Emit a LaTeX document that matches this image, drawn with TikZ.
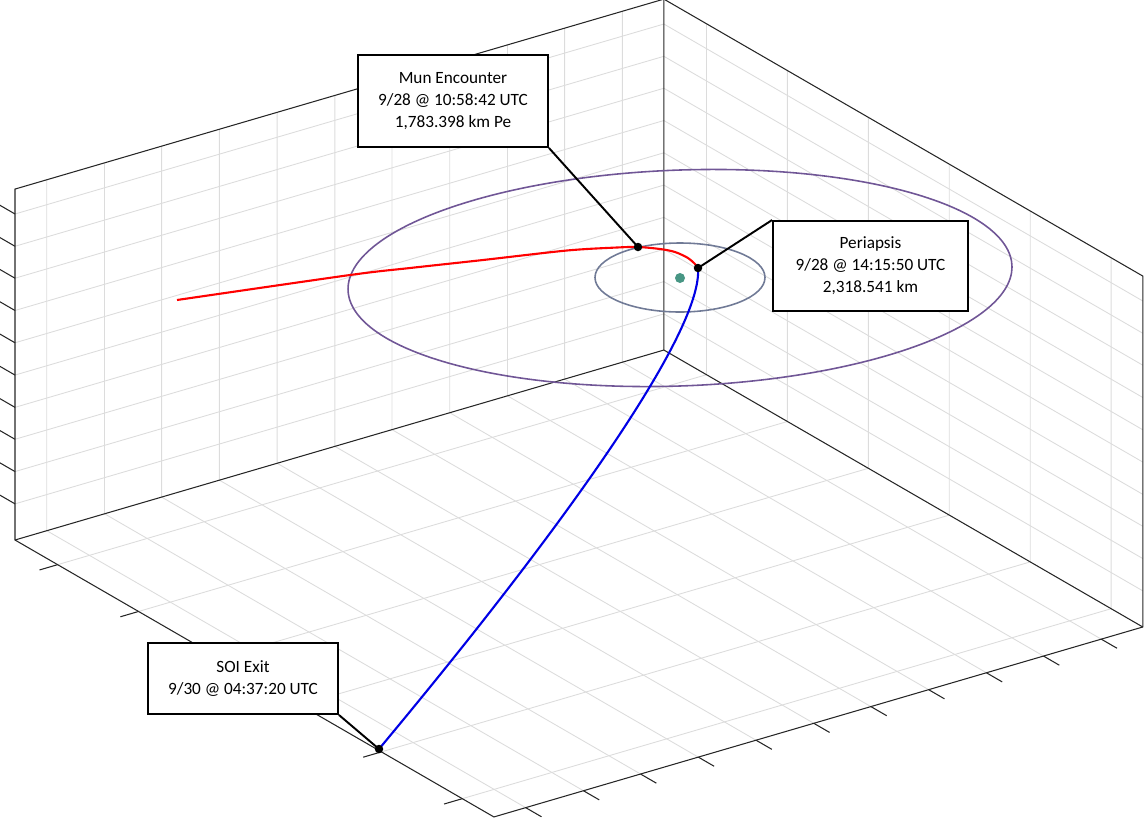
\documentclass[tikz,border=0pt]{standalone}
\usepackage{fontspec}
\setmainfont{Carlito}
\usepackage[]{tikz}
\usetikzlibrary{positioning}
\definecolor{orbitpurple}{RGB}{112,86,150}
\definecolor{soigray}{RGB}{112,122,150}
\definecolor{munteal}{RGB}{72,150,132}
\definecolor{gridgray}{RGB}{220,220,220}
\definecolor{axisdark}{RGB}{38,38,38}
\tikzset{gridline/.style={gridgray,line width=0.5pt}}
\tikzset{axisline/.style={axisdark,line width=0.6pt}}
\tikzset{track/.style={smooth,line width=1.2pt}}
\tikzset{event/.style={circle,fill=black,inner sep=0pt,minimum size=0.17cm}}
\tikzset{leader/.style={black,line width=1.1pt}}
\tikzset{callout/.style={draw=black,line width=1.1pt,fill=white,align=center,inner sep=0pt,font=\fontsize{9.8}{12.5}\selectfont}}

\begin{document}
\begin{tikzpicture}[x=0.02cm,y=-0.02cm] %像素坐标, y向下
    \useasboundingbox (0,0) rectangle (1144,819);
    % box in 3d
    \begin{scope}[shift={(15,540)},x={(12.98cm,3.8cm)},y={(9.58cm,-5.54cm)},z={(0cm,7.02cm)}]
        \foreach \u in {0.049,0.138,0.226,0.315,0.404,0.493,0.581,0.670,0.759,0.847,0.936}
            \draw[gridline] (\u,0,0) -- (\u,0,1) (\u,0,0) -- (\u,1,0);
        \foreach \v in {0.089,0.258,0.427,0.596,0.765,0.934}
            \draw[gridline] (1,\v,0) -- (1,\v,1) (0,\v,0) -- (1,\v,0);
        \foreach \w in {0.103,0.195,0.287,0.378,0.470,0.562,0.654,0.746,0.837,0.929}
            \draw[gridline] (0,0,\w) -- (1,0,\w) -- (1,1,\w);
        \draw[axisline] (0,0,0) -- (0,0,1) -- (1,0,1) -- (1,1,1) -- (1,1,0) -- (0,1,0) -- cycle;
        \draw[axisline] (1,0,0) -- (1,0,1) (0,0,0) -- (1,0,0) -- (1,1,0);
        \foreach \w in {0.103,0.195,0.287,0.378,0.470,0.562,0.654,0.746,0.837,0.929}
            \draw[axisline] (0,0,\w) -- (0,-0.032,\w);
        \foreach \v in {0.089,0.258,0.427,0.596,0.765,0.934}
            \draw[axisline] (0,\v,0) -- (-0.028,\v,0);
        \foreach \u in {0.049,0.138,0.226,0.315,0.404,0.493,0.581,0.670,0.759,0.847,0.936}
            \draw[axisline] (\u,1,0) -- (\u,1.033,0);
    \end{scope}
    % orbits
    \draw[orbitpurple,line width=0.9pt] plot[domain=0:360,samples=120,smooth] ({680+332*cos(\x)},{278-11*cos(\x)+108*sin(\x)});
    \draw[soigray,line width=0.9pt] (680,277.5) ellipse [x radius=85, y radius=34.5];
    \fill[munteal] (680,278) circle [radius=5];
    \coordinate (encpt) at (638,247);
    \coordinate (peript) at (698,268);
    \coordinate (soipt) at (379,749);
    \draw[track,red] plot coordinates {(177,300) (350,275) (410,268) (483,260) (567,250.5) (617,247.5) (638,247) (660,249) (675,252) (688,258) (695,264) (698,268)};
    \draw[blue!90!black,line width=1.2pt] (peript) .. controls (703,330) and (570,520) .. (soipt);
    % events
    \node[event] (enc) at (encpt) {};
    \node[event] (peri) at (peript) {};
    \node[event] (soiexit) at (soipt) {};
    \node[callout,minimum width=3.8cm,minimum height=1.84cm] (munbox) at (453,101) {Mun Encounter\\9/28 @ 10:58:42 UTC\\1,783.398 km Pe};
    \node[callout,minimum width=3.9cm,minimum height=1.8cm] (peribox) at (870.5,266) {Periapsis\\9/28 @ 14:15:50 UTC\\2,318.541 km};
    \node[callout,minimum width=3.8cm,minimum height=1.42cm] (soibox) at (243,678.5) {SOI Exit\\9/30 @ 04:37:20 UTC};
    \draw[leader] (munbox.south east) -- (enc.center);
    \draw[leader] (peribox.north west) -- (peri.center);
    \draw[leader] (soibox.south east) -- (soiexit.center);
\end{tikzpicture}
\end{document}
